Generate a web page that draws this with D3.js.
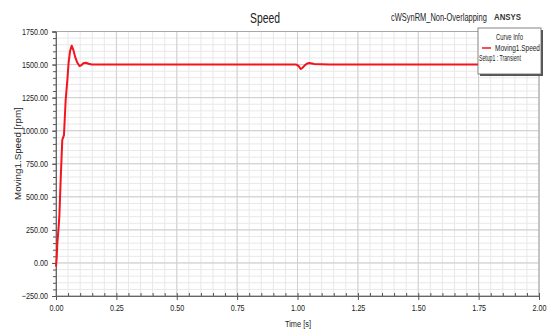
<!DOCTYPE html>
<html>
<head>
<meta charset="utf-8">
<script src="https://cdn.jsdelivr.net/npm/d3@7"></script>
<style>
  html, body { margin: 0; padding: 0; background: #fff; }
  svg { display: block; font-family: "Liberation Sans", Arial, sans-serif; }
</style>
</head>
<body>
<svg id="chart" width="550" height="331"></svg>
<script>
// Rotor speed trace (Moving1.Speed) over time
const timeS = [0, 0.003, 0.0055, 0.01, 0.0138, 0.0193, 0.026, 0.033, 0.040, 0.047, 0.052, 0.058,
  0.065, 0.072, 0.079, 0.088, 0.097, 0.105, 0.113, 0.124, 0.135, 0.148, 0.2, 0.4, 0.6, 0.8,
  0.995, 1.005, 1.013, 1.02, 1.03, 1.04, 1.05, 1.07, 1.1, 1.13, 1.2, 1.5, 2.0];
const speedRpm = [-28, 40, 148, 250, 350, 627, 930, 967, 1232, 1383, 1510, 1600,
  1643, 1610, 1560, 1515, 1489, 1495, 1510, 1514, 1506, 1501, 1500, 1500, 1500, 1500,
  1500, 1488, 1466, 1474, 1494, 1508, 1512, 1505, 1503, 1501, 1500, 1500, 1500];

const xTicks = [0, 0.25, 0.5, 0.75, 1.0, 1.25, 1.5, 1.75, 2.0];
const yTicks = [-250, 0, 250, 500, 750, 1000, 1250, 1500, 1750];
const xMinorStep = 0.05;
const yMinorStep = 50;

const svg = d3.select("#chart");
const plotL = 56, plotR = 539, plotT = 31.5, plotB = 296;

const x = d3.scaleLinear().domain([0, 2]).range([plotL, plotR]);
const y = d3.scaleLinear().domain([-250, 1750]).range([plotB, plotT]);

const xMinor = d3.range(0, 2 + 1e-9, xMinorStep);
const yMinor = d3.range(-250, 1750 + 1e-9, yMinorStep);

// place a text at (px, py) and squeeze it horizontally to a given width (narrow-face look)
function narrowText(parent, px, py, str, size, width, opts = {}) {
  const t = parent.append("text").attr("x", 0).attr("y", 0)
    .attr("font-size", size).attr("fill", opts.fill || "#222")
    .attr("font-weight", opts.weight || null).text(str);
  const w = t.node().getComputedTextLength();
  const rot = opts.rotate ? ` rotate(${opts.rotate})` : "";
  t.attr("transform", `translate(${px},${py})${rot} scale(${width / w},1)`);
  return t;
}

// grid
const grid = svg.append("g");
grid.selectAll("line.vmin").data(xMinor).join("line")
  .attr("x1", d => x(d)).attr("x2", d => x(d)).attr("y1", plotT).attr("y2", plotB)
  .attr("stroke", "#e8e8e8").attr("stroke-width", 1);
grid.selectAll("line.hmin").data(yMinor).join("line")
  .attr("x1", plotL).attr("x2", plotR).attr("y1", d => y(d)).attr("y2", d => y(d))
  .attr("stroke", "#e8e8e8").attr("stroke-width", 1);
grid.selectAll("line.vmaj").data(xTicks).join("line")
  .attr("x1", d => x(d)).attr("x2", d => x(d)).attr("y1", plotT).attr("y2", plotB)
  .attr("stroke", "#d0d0d0").attr("stroke-width", 1);
grid.selectAll("line.hmaj").data(yTicks).join("line")
  .attr("x1", plotL).attr("x2", plotR).attr("y1", d => y(d)).attr("y2", d => y(d))
  .attr("stroke", "#cdcdcd").attr("stroke-width", 1);

// plot frame
svg.append("rect").attr("x", plotL).attr("y", plotT).attr("width", plotR - plotL).attr("height", plotB - plotT)
  .attr("fill", "none").attr("stroke", "#a8a8a8").attr("stroke-width", 1);

// minor ticks
svg.append("g").attr("transform", `translate(0,${plotB})`)
  .call(d3.axisBottom(x).tickValues(xMinor).tickSize(-3).tickFormat(""))
  .call(g => g.select(".domain").remove())
  .selectAll("line").attr("stroke", "#555");
svg.append("g").attr("transform", `translate(${plotL},0)`)
  .call(d3.axisLeft(y).tickValues(yMinor).tickSize(3).tickFormat(""))
  .call(g => g.select(".domain").remove())
  .selectAll("line").attr("stroke", "#555");

// major axes
const xAxis = svg.append("g").attr("transform", `translate(0,${plotB})`)
  .call(d3.axisBottom(x).tickValues(xTicks).tickSize(4).tickPadding(5).tickFormat(d3.format(".2f")));
const yAxis = svg.append("g").attr("transform", `translate(${plotL},0)`)
  .call(d3.axisLeft(y).tickValues(yTicks).tickSize(4).tickPadding(4).tickFormat(d3.format(".2f")));
const squeeze = 0.8;
[xAxis, yAxis].forEach(a => {
  a.select(".domain").attr("stroke", "#666");
  a.selectAll(".tick line").attr("stroke", "#555");
  a.selectAll("text").attr("fill", "#222").attr("font-size", 9)
    .attr("font-family", "\"Liberation Sans\", Arial, sans-serif")
    .each(function () {
      const x0 = +this.getAttribute("x") || 0;
      this.setAttribute("transform", `translate(${x0},0) scale(${squeeze},1) translate(${-x0},0)`);
    });
});

// speed curve
const line = d3.line().x((d, i) => x(timeS[i])).y(d => y(d));
svg.append("path").datum(speedRpm)
  .attr("d", line)
  .attr("fill", "none").attr("stroke", "#f4141e").attr("stroke-width", 2)
  .attr("stroke-linejoin", "round");

// titles
narrowText(svg, 250, 23, "Speed", 15, 30);
narrowText(svg, 391, 21, "cWSynRM_Non-Overlapping", 10, 96);
narrowText(svg, 494, 20, "ANSYS", 9.5, 27, { weight: "bold", fill: "#333" });

narrowText(svg, 285, 327, "Time [s]", 9, 26);
narrowText(svg, 21, 200, "Moving1.Speed [rpm]", 9.5, 93, { rotate: -90 });

// legend box
const lg = svg.append("g").attr("transform", "translate(478,28)");
lg.append("rect").attr("x", 2).attr("y", 2).attr("width", 63).attr("height", 46).attr("fill", "#555");
lg.append("rect").attr("x", 0).attr("y", 0).attr("width", 63).attr("height", 46)
  .attr("fill", "#fff").attr("stroke", "#666").attr("stroke-width", 0.8);
narrowText(lg, 18, 12, "Curve Info", 8.5, 27);
lg.append("line").attr("x1", 4).attr("x2", 13).attr("y1", 20).attr("y2", 20)
  .attr("stroke", "#f4141e").attr("stroke-width", 1.5);
narrowText(lg, 17, 23, "Moving1.Speed", 8.5, 45);
narrowText(lg, 1, 33, "Setup1 : Transient", 8.5, 42);
</script>
</body>
</html>
